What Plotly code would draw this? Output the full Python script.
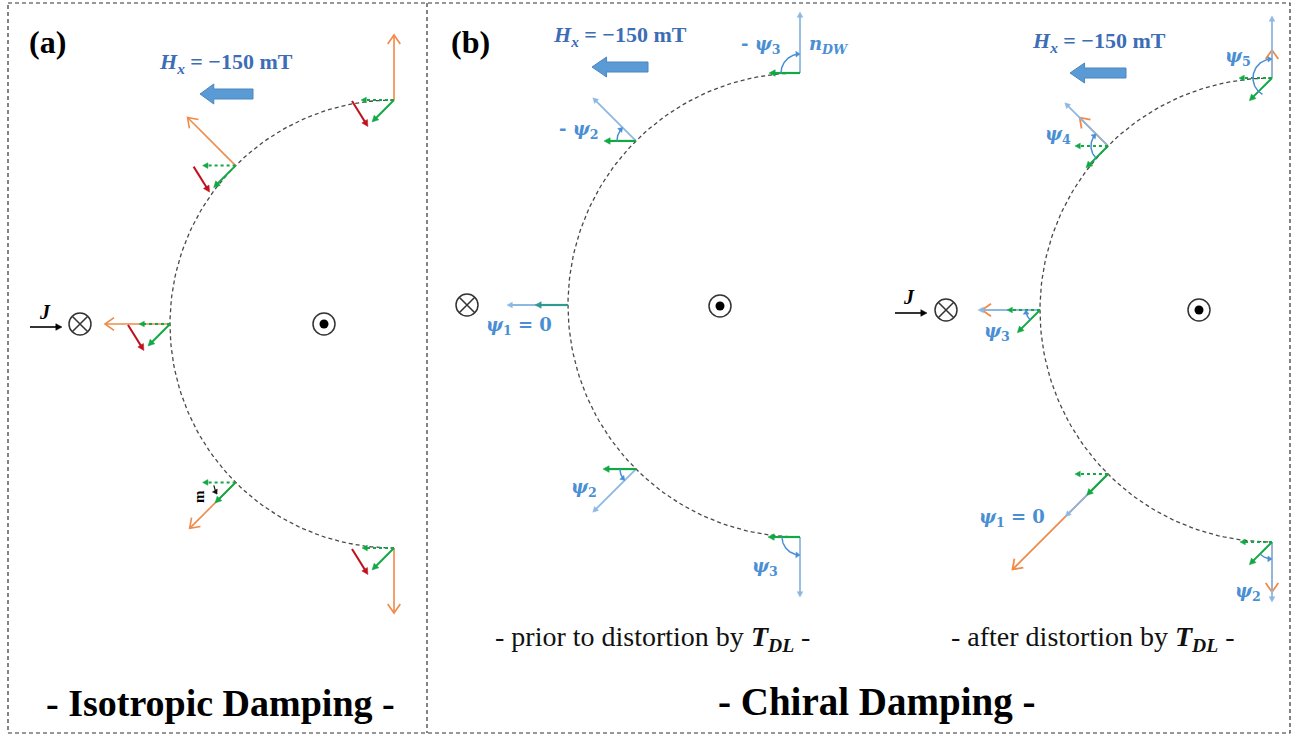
import math
import plotly.graph_objects as go

W, H = 1298, 737

# ---------------- data ----------------
ANCHOR_ANGLES = [90, 135, 180, 225, 270]        # positions on each domain-wall arc (deg)

# panel (a) isotropic damping
A_CENTER = (394, 324)
A_RADIUS = 224
A_M_DIR = [90, 135, 180, 225, 270]              # orange magnetisation directions
A_M_LEN = [65, 68, 65, 65, 65]
A_HX_LEN = [33, 33, 31, 33, 32]                 # dotted green field-like component
A_TQ_DIR = [225, 225, 225, 225, 225]            # solid green torque
A_TQ_LEN = [31, 31, 31, 29, 31]
A_RED_ANCHORS = [90, 135, 180, 270]
A_RED_OFFSET = (-42, 1)
A_RED_DIR = -58
A_RED_LEN = 30

# panel (b) prior to distortion
B_CENTER = (800, 305)
B_RADIUS = 232
B_M_LEN = [61, 61, 61, 61, 60]                  # light-blue n_DW
B_HX_LEN = [31, 32, 33, 33, 32]                 # green Hx component
B_ARCS = [(90, 180, 90, 19), (135, 180, 135, 19), (225, 180, 225, 16), (270, 180, 270, 18)]

# panel (b) after distortion
C_CENTER = (1272, 310)
C_RADIUS = 232
C_M_LEN = [62, 61, 62, 60, 60]                  # light-blue n_DW
C_MD_LEN = [28, 40, 58, 135, 50]                # orange distorted magnetisation
C_HX_LEN = [33, 33, 33, 33, 32]
C_TQ_LEN = [32, 31, 32, 30, 32]
C_ARCS = [(90, 240, 90, 19), (135, 225, 135, 17), (180, 225, 180, 14), (270, 225, 270, 17)]

# symbols: (x, y)
CROSS_POS = [(80, 324), (467, 305), (946, 310)]
DOT_POS = [(324, 324), (720, 306), (1199, 310)]
J_ARROWS = [(30, 327, 62, 327), (895, 313, 927, 313)]
HX_ARROWS = [(253, 200, 94), (648, 592, 67), (1126, 1070, 73)]   # x_tail, x_tip, y

# labels
TEXTS = [
    ("<b>(a)</b>", 47, 42, 32, "#000"),
    ("<b>(b)</b>", 470, 42, 32, "#000"),
    ("<b>- Isotropic Damping -</b>", 220, 703, 38, "#000"),
    ("<b>- Chiral Damping -</b>", 876, 702, 39, "#000"),
    ("- prior to distortion by <b><i>T<sub>DL</sub></i></b> -", 652, 638, 28, "#111"),
    ("- after distortion by <b><i>T<sub>DL</sub></i></b> -", 1093, 638, 28, "#111"),
]
HX_TEXT_POS = [(226, 63), (620, 36), (1099, 42)]
J_TEXT_POS = [(45, 312), (909, 297)]
PSI_TEXTS = [
    ("<b>- <i>ψ</i><sub>3</sub></b>", 760, 45),
    ("<b><i>n<sub>DW</sub></i></b>", 829, 45),
    ("<b>- <i>ψ</i><sub>2</sub></b>", 578, 130),
    ("<b><i>ψ</i><sub>1</sub> = 0</b>", 519, 326),
    ("<b><i>ψ</i><sub>2</sub></b>", 584, 488),
    ("<b><i>ψ</i><sub>3</sub></b>", 765, 567),
    ("<b><i>ψ</i><sub>5</sub></b>", 1238, 57),
    ("<b><i>ψ</i><sub>4</sub></b>", 1058, 135),
    ("<b><i>ψ</i><sub>3</sub></b>", 997, 332),
    ("<b><i>ψ</i><sub>1</sub> = 0</b>", 1012, 518),
    ("<b><i>ψ</i><sub>2</sub></b>", 1248, 592),
]

ORANGE = "#f08a48"
GREEN = "#12a844"
RED = "#c0111f"
LBLUE = "#8db8e4"
PSI_BLUE = "#4a8fd4"
HX_BLUE = "#3d6db5"
BLOCK_BLUE = "#5b9bd5"

fig = go.Figure()


def line(xs, ys, color, width=1.5, dash="solid"):
    fig.add_trace(go.Scatter(x=xs, y=ys, mode="lines",
                             line=dict(color=color, width=width, dash=dash),
                             hoverinfo="skip", showlegend=False))


def head(x1, y1, ang, color, hs, spread, style, width):
    a1 = ang - math.radians(spread)
    a2 = ang + math.radians(spread)
    lx, ly = x1 - hs * math.cos(a1), y1 - hs * math.sin(a1)
    rx, ry = x1 - hs * math.cos(a2), y1 - hs * math.sin(a2)
    if style == "open":
        line([lx, x1, rx], [ly, y1, ry], color, width)
    else:
        fig.add_trace(go.Scatter(x=[lx, x1, rx, lx], y=[ly, y1, ry, ly], mode="lines",
                                 fill="toself", fillcolor=color,
                                 line=dict(color=color, width=0.5),
                                 hoverinfo="skip", showlegend=False))


def arrow(x0, y0, x1, y1, color, width=1.6, dash="solid", style="filled", hs=7, spread=28):
    ang = math.atan2(y1 - y0, x1 - x0)
    if style == "filled":
        ex, ey = x1 - 0.6 * hs * math.cos(ang), y1 - 0.6 * hs * math.sin(ang)
    else:
        ex, ey = x1, y1
    line([x0, ex], [y0, ey], color, width, dash)
    head(x1, y1, ang, color, hs, spread, style, width)


def vec(x0, y0, deg, length):
    return x0 + length * math.cos(math.radians(deg)), y0 - length * math.sin(math.radians(deg))


def anchor(center, radius, deg):
    return vec(center[0], center[1], deg, radius)


def arc(cx, cy, r, a0, a1, color, width=1.3, dash="solid", n=40):
    pts = [a0 + (a1 - a0) * i / n for i in range(n + 1)]
    xs = [cx + r * math.cos(math.radians(a)) for a in pts]
    ys = [cy - r * math.sin(math.radians(a)) for a in pts]
    line(xs, ys, color, width, dash)
    return xs, ys


def angle_arc(cx, cy, r, a0, a1, color):
    xs, ys = arc(cx, cy, r, a0, a1 - (3 if a1 > a0 else -3), color, 1.5)
    ex, ey = cx + r * math.cos(math.radians(a1)), cy - r * math.sin(math.radians(a1))
    ang = math.atan2(ey - ys[-2], ex - xs[-2])
    head(ex, ey, ang, color, 5, 35, "filled", 1)


# ---------------- domain-wall arcs ----------------
for (c, r) in [(A_CENTER, A_RADIUS), (B_CENTER, B_RADIUS), (C_CENTER, C_RADIUS)]:
    arc(c[0], c[1], r, 90, 270, "#4a4a4a", 1.3, "4px,3px", 120)

# ---------------- panel (a) ----------------
for i, a in enumerate(ANCHOR_ANGLES):
    x0, y0 = anchor(A_CENTER, A_RADIUS, a)
    x1, y1 = vec(x0, y0, A_M_DIR[i], A_M_LEN[i])
    arrow(x0, y0, x1, y1, ORANGE, 1.6, style="open", hs=11, spread=35)
    x1, y1 = vec(x0, y0, 180, A_HX_LEN[i])
    arrow(x0, y0, x1, y1, GREEN, 2, dash="dot", hs=6)
    x1, y1 = vec(x0, y0, A_TQ_DIR[i], A_TQ_LEN[i])
    arrow(x0, y0, x1, y1, GREEN, 2, hs=7)
    if a in A_RED_ANCHORS:
        rx0, ry0 = x0 + A_RED_OFFSET[0], y0 + A_RED_OFFSET[1]
        rx1, ry1 = vec(rx0, ry0, A_RED_DIR, A_RED_LEN)
        arrow(rx0, ry0, rx1, ry1, RED, 2, hs=7)
    if a == 225:
        xs, ys = arc(x0, y0, 22, 188, 212, "#111", 1.2)
        head(xs[-1], ys[-1], math.atan2(ys[-1] - ys[-3], xs[-1] - xs[-3]), "#111", 5, 35, "filled", 1)

# ---------------- panel (b) prior ----------------
for i, a in enumerate(ANCHOR_ANGLES):
    x0, y0 = anchor(B_CENTER, B_RADIUS, a)
    x1, y1 = vec(x0, y0, a, B_M_LEN[i])
    arrow(x0, y0, x1, y1, LBLUE, 1.8, hs=6)
    x1, y1 = vec(x0, y0, 180, B_HX_LEN[i])
    arrow(x0, y0, x1, y1, GREEN if a != 180 else "#2e9a92", 2.2, hs=7)
for (a, s, e, r) in B_ARCS:
    x0, y0 = anchor(B_CENTER, B_RADIUS, a)
    angle_arc(x0, y0, r, s, e, PSI_BLUE)

# ---------------- panel (b) after ----------------
for i, a in enumerate(ANCHOR_ANGLES):
    x0, y0 = anchor(C_CENTER, C_RADIUS, a)
    x1, y1 = vec(x0, y0, a, C_MD_LEN[i])
    arrow(x0, y0, x1, y1, ORANGE, 1.8, style="open", hs=11, spread=35)
    x1, y1 = vec(x0, y0, a, C_M_LEN[i])
    arrow(x0, y0, x1, y1, LBLUE, 1.8, hs=6)
    x1, y1 = vec(x0, y0, 180, C_HX_LEN[i])
    arrow(x0, y0, x1, y1, GREEN, 2, dash="dot", hs=6)
    x1, y1 = vec(x0, y0, 225, C_TQ_LEN[i])
    arrow(x0, y0, x1, y1, GREEN, 2, hs=7)
for (a, s, e, r) in C_ARCS:
    x0, y0 = anchor(C_CENTER, C_RADIUS, a)
    angle_arc(x0, y0, r, s, e, PSI_BLUE)

# ---------------- symbols ----------------
fig.add_trace(go.Scatter(x=[p[0] for p in CROSS_POS], y=[p[1] for p in CROSS_POS], mode="markers",
                         marker=dict(symbol="circle-x-open", size=22, color="#333",
                                     line=dict(width=1.5, color="#333")),
                         hoverinfo="skip", showlegend=False))
fig.add_trace(go.Scatter(x=[p[0] for p in DOT_POS], y=[p[1] for p in DOT_POS], mode="markers",
                         marker=dict(symbol="circle-open", size=22, color="#333",
                                     line=dict(width=1.5, color="#333")),
                         hoverinfo="skip", showlegend=False))
fig.add_trace(go.Scatter(x=[p[0] for p in DOT_POS], y=[p[1] for p in DOT_POS], mode="markers",
                         marker=dict(symbol="circle", size=9, color="#000"),
                         hoverinfo="skip", showlegend=False))
for (x0, y0, x1, y1) in J_ARROWS:
    arrow(x0, y0, x1, y1, "#000", 1.6, hs=7)

# block Hx arrows
for (xt, xh, y) in HX_ARROWS:
    L = xt - xh
    hb = xh + 0.26 * L
    xs = [xh, hb, hb, xt, xt, hb, hb, xh]
    ys = [y, y - 10, y - 5, y - 5, y + 5, y + 5, y + 10, y]
    fig.add_trace(go.Scatter(x=xs, y=ys, mode="lines", fill="toself", fillcolor=BLOCK_BLUE,
                             line=dict(color="#4a86c0", width=1), hoverinfo="skip", showlegend=False))

# ---------------- text ----------------
ann = []
SERIF = "Liberation Serif, Times New Roman, Times, serif"
for (t, x, y, s, col) in TEXTS:
    ann.append(dict(text=t, x=x, y=y, font=dict(family=SERIF, size=s, color=col)))
for (x, y) in HX_TEXT_POS:
    ann.append(dict(text="<b><i>H</i><sub><i>x</i></sub> = −150 mT</b>", x=x, y=y,
                    font=dict(family=SERIF, size=22, color=HX_BLUE)))
for (x, y) in J_TEXT_POS:
    ann.append(dict(text="<b><i>J</i></b>", x=x, y=y, font=dict(family=SERIF, size=20, color="#000")))
for (t, x, y) in PSI_TEXTS:
    ann.append(dict(text=t, x=x, y=y, font=dict(family="DejaVu Serif", size=18, color=PSI_BLUE)))
ann.append(dict(text="<b>m</b>", x=199, y=497, textangle=-90,
                font=dict(family=SERIF, size=15, color="#000")))
for a in ann:
    a.update(xref="x", yref="y", showarrow=False, xanchor="center", yanchor="middle")

shapes = [
    dict(type="rect", xref="x", yref="y", x0=8, y0=3, x1=1290, y1=733,
         line=dict(color="#333", width=1.2, dash="4px,3px")),
    dict(type="line", xref="x", yref="y", x0=427, y0=3, x1=427, y1=733,
         line=dict(color="#333", width=1.2, dash="4px,3px")),
]

fig.update_layout(
    width=W, height=H, margin=dict(l=0, r=0, t=0, b=0),
    paper_bgcolor="white", plot_bgcolor="white",
    xaxis=dict(range=[0, W], visible=False, fixedrange=True),
    yaxis=dict(range=[H, 0], visible=False, fixedrange=True),
    annotations=ann, shapes=shapes, showlegend=False,
)

fig.write_html("out.html", config={"displayModeBar": False},
               post_script="document.body.style.margin='0px';document.body.style.overflow='hidden';")
